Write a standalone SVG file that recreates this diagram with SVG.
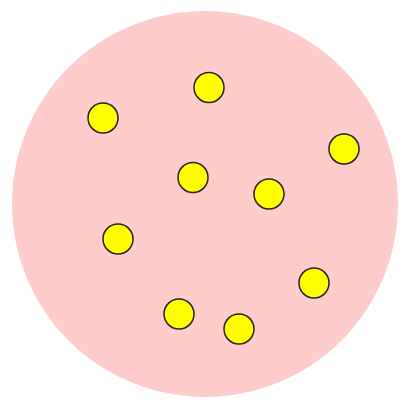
<svg xmlns="http://www.w3.org/2000/svg" width="403" height="403" viewBox="0 0 403 403">
<style>
.bg{fill:#ffcccc;stroke:none}
.dot{fill:#ffff00;stroke:#222;stroke-width:1.5}
</style>
<rect width="403" height="403" fill="#ffffff"/>
<circle class="bg" cx="205" cy="204" r="193"/>
<g id="dots">
<circle class="dot" cx="103" cy="118" r="15"/>
<circle class="dot" cx="209" cy="87.5" r="15"/>
<circle class="dot" cx="344" cy="149" r="15"/>
<circle class="dot" cx="193" cy="177.5" r="15"/>
<circle class="dot" cx="269" cy="194" r="15"/>
<circle class="dot" cx="118" cy="239" r="15"/>
<circle class="dot" cx="314" cy="283" r="15"/>
<circle class="dot" cx="179" cy="314" r="15"/>
<circle class="dot" cx="239" cy="329" r="15"/>
</g>
</svg>
